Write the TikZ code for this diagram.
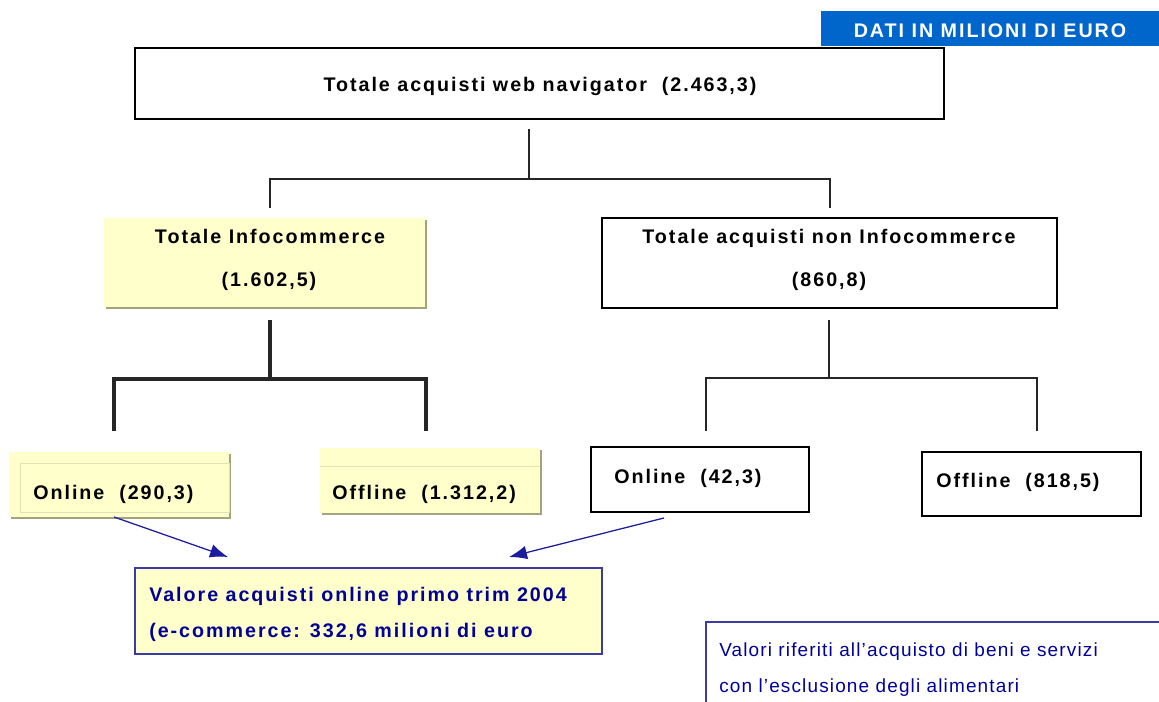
\documentclass[tikz,border=0pt]{standalone}
\usepackage{fontspec}
\setmainfont{Liberation Sans}
\newfontfamily\widesf[LetterSpace=10]{Liberation Sans}
\newfontfamily\notesf[LetterSpace=6]{Liberation Sans}
\usepackage{tikz}
\usetikzlibrary{arrows.meta}
\usetikzlibrary{shadows}
\definecolor{paleyellow}{HTML}{FFFFCC}
\definecolor{shadowolive}{HTML}{A4A47C}
\definecolor{innerolive}{HTML}{E2E2B4}
\definecolor{navytext}{HTML}{000099}
\definecolor{framenavy}{HTML}{3B3BA8}
\definecolor{arrownavy}{HTML}{1C1CA0}
\definecolor{bannerblue}{HTML}{0066CC}

\begin{document}
\begin{tikzpicture}[x=0.025cm, y=-0.025cm,
    whitebox/.style={draw=black, line width=1pt, fill=white, inner sep=0pt},
    yellowbox/.style={fill=paleyellow, inner sep=0pt,
        drop shadow={shadow xshift=0.06cm, shadow yshift=-0.06cm, fill=shadowolive, opacity=1}},
    bluebox/.style={draw=framenavy, line width=1pt, fill=paleyellow, inner sep=0pt},
    boldtxt/.style={font=\widesf\bfseries\fontsize{14}{16}\selectfont, inner sep=0pt},
    bluetxt/.style={boldtxt, text=navytext},
    notetxt/.style={font=\notesf\fontsize{13.5}{16}\selectfont, text=navytext, inner sep=0pt, anchor=base west},
    thinline/.style={black!85, line width=0.9pt},
    thickline/.style={black!85, line width=2.2pt},
    bluearrow/.style={arrownavy, line width=0.9pt, -{Latex[length=4.5mm, width=3.4mm]}}]
        \useasboundingbox (0,0) rectangle (1159,702);

        %% heading
        \node[fill=bannerblue, minimum width=8.45cm, minimum height=0.875cm] (banner) at (990,28.5) {};
        \node[boldtxt, text=white, anchor=base] (bannerT) at (990,38) {DATI IN MILIONI DI EURO};

        %% total
        \node[whitebox, minimum width=20.225cm, minimum height=1.775cm] (total) at (539.5,83.5) {};
        \node[boldtxt, anchor=base] (totalT) at (540,92) {Totale acquisti web navigator~~(2.463,3)};

        %% first split
        \node[yellowbox, minimum width=8.025cm, minimum height=2.225cm] (info) at (264.5,262.5) {};
        \node[boldtxt, anchor=base] (infoT) at (270,244) {Totale Infocommerce};
        \node[boldtxt, anchor=base] (infoV) at (269,287) {(1.602,5)};
        \node[whitebox, minimum width=11.375cm, minimum height=2.25cm] (noninfo) at (829.5,263) {};
        \node[boldtxt, anchor=base] (noninfoT) at (829,244) {Totale acquisti non Infocommerce};
        \node[boldtxt, anchor=base] (noninfoV) at (829,287) {(860,8)};

        \coordinate (totalStem) at (529,129);
        \coordinate (totalBar) at (529,179);
        \coordinate (infoTip) at (270,208);
        \coordinate (noninfoTip) at (830,208);
        \draw[thinline] (totalStem) -- (totalBar);
        \draw[thinline] (infoTip) -- (infoTip |- totalBar) -- (noninfoTip |- totalBar) -- (noninfoTip);

        %% Infocommerce branch
        \node[yellowbox, minimum width=5.5cm, minimum height=1.625cm] (onlineA) at (119,484.5) {};
        \draw[innerolive, line width=0.6pt] (20,463) rectangle (229,512);
        \node[boldtxt, anchor=base west] (onlineAT) at (33,499) {Online~~(290,3)};
        \node[yellowbox, minimum width=5.5cm, minimum height=1.625cm] (offlineA) at (430,480.5) {};
        \draw[innerolive, line width=0.6pt] (320,466) -- (540,466);
        \node[boldtxt, anchor=base west] (offlineAT) at (332,499) {Offline~~(1.312,2)};

        \coordinate (infoStem) at (270,320);
        \coordinate (infoBar) at (270,379);
        \coordinate (onlineATip) at (114,431);
        \coordinate (offlineATip) at (426,431);
        \draw[thickline] (infoStem) -- (infoBar);
        \draw[thickline] (onlineATip) -- (onlineATip |- infoBar) -- (offlineATip |- infoBar) -- (offlineATip);

        %% non Infocommerce branch
        \node[whitebox, minimum width=5.45cm, minimum height=1.625cm] (onlineB) at (700,479.5) {};
        \node[boldtxt, anchor=base west] (onlineBT) at (614,483) {Online~~(42,3)};
        \node[whitebox, minimum width=5.475cm, minimum height=1.6cm] (offlineB) at (1031.5,484) {};
        \node[boldtxt, anchor=base west] (offlineBT) at (936,487) {Offline~~(818,5)};

        \coordinate (noninfoStem) at (829,320);
        \coordinate (noninfoBar) at (829,378);
        \coordinate (onlineBTip) at (706,431);
        \coordinate (offlineBTip) at (1037,431);
        \draw[thinline] (noninfoStem) -- (noninfoBar);
        \draw[thinline] (onlineBTip) -- (onlineBTip |- noninfoBar) -- (offlineBTip |- noninfoBar) -- (offlineBTip);

        %% online total
        \node[bluebox, minimum width=11.675cm, minimum height=2.15cm] (valore) at (368.5,611) {};
        \node[bluetxt, anchor=base west] (valoreT) at (149,601) {Valore acquisti online primo trim 2004};
        \node[bluetxt, anchor=base west] (valoreV) at (149,637) {(e-commerce: 332,6 milioni di euro};

        \coordinate (arrowA) at (114,517);
        \coordinate (arrowB) at (664,518);
        \coordinate (valoreL) at (228,557);
        \coordinate (valoreR) at (509,557);
        \draw[bluearrow] (arrowA) -- (valoreL);
        \draw[bluearrow] (arrowB) -- (valoreR);

        %% note
        \draw[framenavy, line width=1pt] (706,702) -- (706,622) -- (1159,622);
        \node[notetxt] (noteA) at (719,656) {Valori riferiti all’acquisto di beni e servizi};
        \node[notetxt] (noteB) at (719,692) {con l’esclusione degli alimentari};

\end{tikzpicture}
\end{document}
